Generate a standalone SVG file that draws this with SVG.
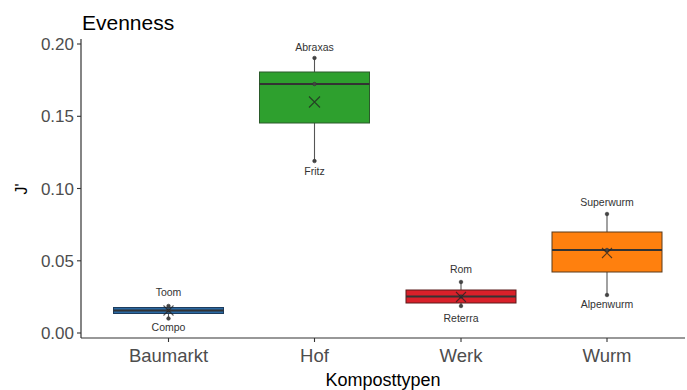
<svg xmlns="http://www.w3.org/2000/svg" width="687" height="390" viewBox="0 0 687 390">
<style>
.ttl{font-family:"Liberation Sans",Arial,sans-serif;font-size:21px;fill:#000}
.ytk{font-family:"Liberation Sans",Arial,sans-serif;font-size:17px;fill:#4d4d4d;text-anchor:end}
.xtk{font-family:"Liberation Sans",Arial,sans-serif;font-size:18.5px;fill:#4d4d4d;text-anchor:middle}
.axt{font-family:"Liberation Sans",Arial,sans-serif;font-size:18px;fill:#000;text-anchor:middle}
.lab{font-family:"Liberation Sans",Arial,sans-serif;font-size:10.5px;fill:#333;text-anchor:middle}
.axis{stroke:#333;stroke-width:1.2;fill:none}
.tick{stroke:#333;stroke-width:1.1}
.wh{stroke:#555;stroke-width:1.1}
.med{stroke:#333;stroke-width:2}
.pt{fill:#444;stroke:#333;stroke-width:0.6}
.mean{stroke:#222;stroke-width:1.1;stroke-opacity:0.75;fill:none}
</style>
<rect width="687" height="390" fill="#fff"/>
<text class="ttl" x="82" y="30">Evenness</text>
<g id="axes">
<line class="axis" x1="81" y1="39" x2="81" y2="338"/>
<line class="axis" x1="81" y1="338" x2="685" y2="338"/>
<line class="tick" x1="77" y1="44" x2="81" y2="44"/>
<line class="tick" x1="77" y1="116.3" x2="81" y2="116.3"/>
<line class="tick" x1="77" y1="188.5" x2="81" y2="188.5"/>
<line class="tick" x1="77" y1="260.8" x2="81" y2="260.8"/>
<line class="tick" x1="77" y1="333" x2="81" y2="333"/>
<text class="ytk" x="74" y="50">0.20</text>
<text class="ytk" x="74" y="122.3">0.15</text>
<text class="ytk" x="74" y="194.5">0.10</text>
<text class="ytk" x="74" y="266.8">0.05</text>
<text class="ytk" x="74" y="339">0.00</text>
<line class="tick" x1="168.5" y1="338" x2="168.5" y2="342"/>
<line class="tick" x1="314.5" y1="338" x2="314.5" y2="342"/>
<line class="tick" x1="461" y1="338" x2="461" y2="342"/>
<line class="tick" x1="607" y1="338" x2="607" y2="342"/>
<text class="xtk" x="168.5" y="362">Baumarkt</text>
<text class="xtk" x="314.5" y="362">Hof</text>
<text class="xtk" x="461" y="362">Werk</text>
<text class="xtk" x="607" y="362">Wurm</text>
<text class="axt" x="383" y="386">Komposttypen</text>
<text class="axt" transform="rotate(-90 27 189)" x="27" y="189" style="font-size:16px">J'</text>
</g>
<g id="baumarkt">
<line class="wh" x1="168.5" y1="305" x2="168.5" y2="319"/>
<rect x="113.5" y="307.5" width="110" height="6" fill="#2a68a2" stroke="#1d3d5e" stroke-width="1"/>
<line class="med" x1="113.5" y1="310.5" x2="223.5" y2="310.5"/>
<circle class="pt" cx="168.5" cy="306" r="1.8"/>
<circle class="pt" cx="168.5" cy="310.5" r="1.8"/>
<circle class="pt" cx="168.5" cy="318.5" r="1.8"/>
<path class="mean" d="M163.5 305.5L173.5 315.5M173.5 305.5L163.5 315.5"/>
<text class="lab" x="168.5" y="295.5">Toom</text>
<text class="lab" x="168.5" y="331">Compo</text>
</g>
<g id="hof">
<line class="wh" x1="314.5" y1="58" x2="314.5" y2="161"/>
<rect x="259.5" y="72" width="110" height="51" fill="#2ea02e" stroke="#2a5a2a" stroke-width="1"/>
<line class="med" x1="259.5" y1="84" x2="369.5" y2="84"/>
<circle class="pt" cx="314.5" cy="58" r="1.8"/>
<circle class="pt" cx="314.5" cy="84" r="1.8" fill="#2ea02e"/>
<circle class="pt" cx="314.5" cy="161" r="1.8"/>
<path class="mean" d="M309 96.5L320 107.5M320 96.5L309 107.5"/>
<text class="lab" x="314.5" y="50.5">Abraxas</text>
<text class="lab" x="314.5" y="175">Fritz</text>
</g>
<g id="werk">
<line class="wh" x1="461" y1="282" x2="461" y2="306"/>
<rect x="406" y="290" width="110" height="13" fill="#d9202a" stroke="#5a1a1a" stroke-width="1"/>
<line class="med" x1="406" y1="296.5" x2="516" y2="296.5"/>
<circle class="pt" cx="461" cy="282" r="1.8"/>
<circle class="pt" cx="461" cy="296.5" r="1.8"/>
<circle class="pt" cx="461" cy="306" r="1.8"/>
<path class="mean" d="M456 292L466 302M466 292L456 302"/>
<text class="lab" x="461" y="273">Rom</text>
<text class="lab" x="461" y="322">Reterra</text>
</g>
<g id="wurm">
<line class="wh" x1="607" y1="214" x2="607" y2="295"/>
<rect x="552" y="232" width="110" height="40" fill="#ff800e" stroke="#5a3a1a" stroke-width="1"/>
<line class="med" x1="552" y1="250" x2="662" y2="250"/>
<circle class="pt" cx="607" cy="214" r="1.8"/>
<circle class="pt" cx="607" cy="250" r="1.8" fill="#ff800e"/>
<circle class="pt" cx="607" cy="295" r="1.8"/>
<path class="mean" d="M602 248L612 258M612 248L602 258"/>
<text class="lab" x="607" y="206">Superwurm</text>
<text class="lab" x="607" y="308">Alpenwurm</text>
</g>
</svg>
